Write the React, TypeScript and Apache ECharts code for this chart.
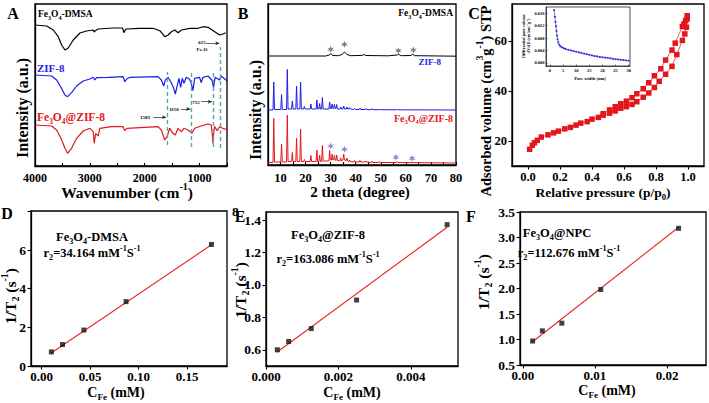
import React, { useEffect, useRef } from "react";
import * as echarts from "echarts";

const SERIF = "Liberation Serif";
const BLACK = "#000000";
const BLUE = "#1c1ce8";
const RED = "#e3161b";
const GUIDE = "#5aa7a3";

// ---------- Panel A: FTIR (wavenumber, offset intensity) ----------
const ftirDMSA = [[4000,141],[3787,140],[3667,136],[3576,129.3],[3515,121],[3454,116],[3394,118],[3303,126],[3181,133],[3060,135],[2939,136],[2920,134],[2900,135.3],[2848,137],[2575,138],[2404,138],[2380,133.3],[2344,137],[2089,137.7],[1847,137.7],[1725,135.3],[1634,129.3],[1574,131],[1512,134.3],[1452,136],[1392,133.3],[1330,136],[1179,137.7],[1027,137.7],[937,139.3],[846,138.7],[724,134.3],[633,131],[573,132],[525,133.3]];
const ftirZIF = [[4000,91],[3697,90],[3606,86],[3527,78.7],[3454,71],[3406,69.3],[3333,73.3],[3242,80],[3121,85],[3000,87],[2939,88.7],[2909,86],[2879,88.3],[2666,88.7],[2393,89.3],[2363,84.3],[2327,87],[2272,88.7],[1757,89.3],[1697,86],[1654,80],[1624,86],[1575,88.7],[1515,83.3],[1472,77.7],[1442,72],[1412,79.3],[1375,87.7],[1345,78.7],[1315,87.7],[1284,82.7],[1242,88.7],[1181,86.7],[1151,82.7],[1121,75.3],[1090,87.7],[1000,88.7],[969,83.3],[939,88.7],[848,90],[775,86],[745,78.7],[715,88.7],[636,86],[606,90],[497,85]];
const ftirComposite = [[4000,41],[3697,40],[3606,36],[3527,27.7],[3454,17.7],[3406,12.7],[3333,17.7],[3242,27.7],[3121,35],[3000,37.7],[2939,34.3],[2920,22.7],[2895,32.7],[2848,30],[2818,37.7],[2606,39.3],[2393,39.3],[2363,35.3],[2327,37.7],[1757,39.3],[1697,36],[1636,26],[1594,29.3],[1545,37.7],[1484,32.7],[1442,31],[1394,37.7],[1333,34.3],[1284,37.7],[1212,36],[1139,32.7],[1090,37.7],[969,40],[848,42],[787,41],[765,30],[757,22.7],[750,30],[727,39.3],[679,35.3],[636,39.3],[545,36.7],[497,37.7]];
const guideLines = [[1583,21,94],[1150,19,96],[755,19,96],[615,18,119]];
const guideArrows = [[1840,1610,48.7],[1340,1170,57],[970,775,64.3],[880,640,122.7]];
const guideTexts = ["1583","1150","755","615"];

// ---------- Panel B: XRD ----------
const xrdDMSA = [[5,109],[28,109],[29.5,110],[30.1,111.5],[30.8,109.5],[33,109.3],[34.5,110.5],[35.5,113],[36.5,110.5],[38,109.3],[42.5,109.6],[43.2,110.5],[44,109.5],[53,109.2],[56.5,110],[57.1,110.8],[58,109.3],[62,109.5],[62.7,110.8],[63.5,109.3],[80,108.8]];
const xrdZIF = [[5,55],[7.0,55],[7.3,83],[7.6,55.5],[10.1,55.5],[10.4,70.5],[10.7,55.5],[12.4,55.5],[12.7,95.5],[13.0,56],[14.4,56],[14.7,64],[15.0,56],[16.1,56],[16.4,79],[16.7,56],[17.7,56],[18.0,83],[18.3,56],[19.2,56],[19.5,58.5],[19.8,56],[21.8,56],[22.1,61],[22.4,56],[24.2,56],[24.5,65],[24.8,56],[25.3,56],[25.6,61.5],[25.9,56],[26.4,56],[26.7,67.5],[27.0,56],[29.3,56],[29.6,63],[29.9,56.5],[30.3,56.5],[30.6,61],[30.9,56.5],[31.2,56.5],[31.5,60.5],[31.8,56.5],[32.1,56.5],[32.4,60.5],[32.7,56],[33.7,56],[34.0,58],[34.3,56],[34.9,56],[35.2,59],[35.5,56],[36.2,56],[36.5,58],[36.8,56],[37.3,56],[37.6,57.3],[37.9,56],[39.2,55.5],[39.5,56.5],[39.8,55.5],[41.4,55.5],[41.7,57],[42,55.5],[43.8,55.5],[44.1,56.5],[44.4,55.5],[46.3,55.3],[46.6,56.5],[46.9,55.3],[49,55.3],[49.3,56],[49.6,55.3],[56.3,55.2],[56.6,56],[56.9,55.2],[80,55]];
const xrdComposite = [[5,2.5],[7.0,2.5],[7.3,46.5],[7.6,3],[10.1,3],[10.4,21],[10.7,3],[12.4,3],[12.7,50],[13.0,3.5],[14.4,3.5],[14.7,12.5],[15.0,3.5],[16.1,3.5],[16.4,27],[16.7,3.5],[17.7,3.5],[18.0,36],[18.3,3.5],[19.2,3.5],[19.5,5.5],[19.8,3.5],[21.8,3.5],[22.1,9.5],[22.4,3.5],[24.2,3.5],[24.5,15],[24.8,3.5],[25.3,3.5],[25.6,10],[25.9,3.5],[26.4,3.5],[26.7,19.5],[27.0,4],[29.3,4],[29.6,14.5],[29.9,5],[30.3,5],[30.6,11],[30.9,5],[31.2,5],[31.5,9.5],[31.8,5],[32.1,4.5],[32.4,10],[32.7,4.5],[33.7,4],[34.0,7],[34.3,4],[34.9,5],[35.2,11],[35.5,5],[36.2,4.5],[36.5,7],[36.8,4],[37.3,3.5],[37.6,5],[37.9,3.5],[39.2,3],[39.5,4.5],[39.8,3],[41.4,3],[41.7,4.5],[42,3],[43.8,3],[44.1,4],[44.4,3],[46.3,2.5],[46.6,4],[46.9,2.5],[49,2.5],[49.3,3.5],[49.6,2.5],[56.3,2.5],[56.6,3.5],[56.9,2.5],[80,2]];
const starsDMSA = [[30,115.7],[35.5,120.7],[57,114.3],[63,115]];
const starsComposite = [[30,19],[35.5,15.7],[56,7.7],[62.5,6.7]];

// ---------- Panel C: N2 isotherm ----------
const adsorption = [[0.01,16.7],[0.027,18.3],[0.04,19.3],[0.058,20.3],[0.083,21.6],[0.125,22.5],[0.16,23.3],[0.19,24],[0.23,24.9],[0.265,25.5],[0.3,26.4],[0.33,27.2],[0.37,27.8],[0.4,28.8],[0.44,29.5],[0.47,30.4],[0.51,31.2],[0.545,32.1],[0.58,33.2],[0.615,33.8],[0.65,34.7],[0.68,35.8],[0.72,37.6],[0.755,39.3],[0.79,41.5],[0.82,44],[0.86,46.8],[0.9,50],[0.93,54.7],[0.965,60.4],[0.98,63],[0.99,65.7],[0.995,69]];
const desorption = [[0.995,70.3],[0.985,68.3],[0.975,67],[0.965,66],[0.92,59.3],[0.9,56.5],[0.86,52.5],[0.83,49],[0.79,46.2],[0.755,43.4],[0.72,41],[0.68,39],[0.65,37.4],[0.615,36],[0.58,35],[0.545,33.8],[0.51,32.5],[0.47,31]];
const poreDist = [[1.6,0.017],[1.9,0.0148],[2.1,0.0132],[2.3,0.0118],[2.5,0.0103],[2.7,0.0088],[2.9,0.0076],[3.2,0.0066],[3.6,0.0058],[4,0.0053],[4.6,0.005],[5.3,0.0047],[6,0.0045],[7,0.0042],[8,0.004],[9,0.0038],[10,0.0036],[11,0.0034],[12,0.0032],[13,0.003],[14,0.0028],[15,0.0026],[16,0.0024],[17,0.0022],[18,0.0021],[19,0.0019],[20,0.0018],[21,0.0017],[22,0.0016],[23,0.0015],[24,0.0013],[25,0.0012],[26,0.0011],[27,0.001],[28,0.0009],[29,0.0008],[30,0.0007]];

// ---------- Panels D, E, F: relaxivity ----------
const dConc = [0.0100, 0.0215, 0.0435, 0.087, 0.175];
const dRate = [0.73, 1.11, 1.86, 3.33, 6.29];
const dFit = [[0.0095, 0.66], [0.175, 6.27]];
const dTicks = [0, 2, 4, 6, 8];
const eConc = [0.0003125, 0.000625, 0.00125, 0.0025, 0.005];
const eRate = [0.60, 0.651, 0.731, 0.907, 1.372];
const eFit = [[0.0003, 0.585], [0.005, 1.356]];
const fConc = [0.00135, 0.0027, 0.0054, 0.0108, 0.0216];
const fRate = [0.97, 1.17, 1.32, 1.98, 3.18];
const fFit = [[0.0013, 0.95], [0.0216, 3.2]];

const zip = (xs: number[], ys: number[]) => xs.map((x, i) => [x, ys[i]]);

const rich = (fs: number, color: string) => {
  const base = { fontFamily: SERIF, fontWeight: "bold", fill: color };
  return {
    n: { ...base, fontSize: fs, lineHeight: fs * 1.4, verticalAlign: "middle" },
    s: { ...base, fontSize: fs * 0.65, lineHeight: fs * 0.65, verticalAlign: "bottom" },
    p: { ...base, fontSize: fs * 0.65, lineHeight: fs * 0.65, verticalAlign: "top" },
  };
};

function txt(text: string, x: number, y: number, fs: number, color = BLACK, align = "center", rotation = 0) {
  return {
    type: "text", x, y, rotation, silent: true, z: 100,
    style: { text, rich: rich(fs, color), align, verticalAlign: "middle", fill: color, fontFamily: SERIF, fontWeight: "bold", fontSize: fs },
  };
}

const lbl = (fs: number) => ({ color: "#000", fontFamily: SERIF, fontWeight: "bold", fontSize: fs });

function vAxis(o: any) {
  const ax: any = {
    type: "value", gridIndex: o.grid, min: o.min, max: o.max, inverse: !!o.inverse,
    axisLine: { show: o.line !== false, onZero: false, lineStyle: { color: "#000", width: o.lw ?? 1.3 } },
    axisTick: { show: o.ticks !== false, inside: !!o.inside, length: o.tl ?? 3.5, lineStyle: { color: "#000", width: o.tw ?? 1.1 } },
    axisLabel: { show: o.labels !== false, margin: o.margin ?? 5, showMinLabel: true, showMaxLabel: true, hideOverlap: false,
      formatter: o.fmt ?? ((v: number) => String(v)), ...lbl(o.fs ?? 12) },
    splitLine: { show: false },
  };
  if (o.interval !== undefined) ax.interval = o.interval;
  if (o.tickValues) ax.axisTick.customValues = o.tickValues;
  if (o.labelValues) ax.axisLabel.customValues = o.labelValues;
  return ax;
}

const fx = (d: number) => (v: number) => v.toFixed(d);
const FE3O4 = "{n|Fe}{s|3}{n|O}{s|4}";
const STAR = "path://M0,-5L1.2,-1.6L4.6,-2.6L2,0L4.6,2.6L1.2,1.6L0,5L-1.2,1.6L-4.6,2.6L-2,0L-4.6,-2.6L-1.2,-1.6Z";

function buildOption() {
  const grids = [
    { left: 35, top: 4, width: 192, height: 162, borderWidth: 1.3 },
    { left: 268, top: 4, width: 188, height: 161, borderWidth: 1.3 },
    { left: 512, top: 4, width: 192, height: 162, borderWidth: 1.3 },
    { left: 546, top: 7, width: 84, height: 59, borderWidth: 0.7 },
    { left: 31, top: 211, width: 196, height: 155, borderWidth: 1.3 },
    { left: 266, top: 212, width: 192, height: 154, borderWidth: 1.3 },
    { left: 520, top: 212, width: 186, height: 153, borderWidth: 1.3 },
  ].map((g) => ({ ...g, show: true, borderColor: "#000", backgroundColor: "transparent", containLabel: false }));

  const xAxis = [
    vAxis({ grid: 0, min: 500, max: 4000, inverse: true, inside: true, tl: 3,
      tickValues: [500, 1000, 1500, 2000, 2500, 3000, 3500, 4000], labelValues: [1000, 2000, 3000, 4000], fs: 12, margin: 6 }),
    vAxis({ grid: 1, min: 5, max: 80, inside: true, tl: 3,
      tickValues: [10, 15, 20, 25, 30, 35, 40, 45, 50, 55, 60, 65, 70, 75, 80], labelValues: [10, 20, 30, 40, 50, 60, 70, 80], fs: 12.5, margin: 6 }),
    vAxis({ grid: 2, min: -0.1, max: 1.1, tickValues: [0, 0.2, 0.4, 0.6, 0.8, 1.0], labelValues: [0, 0.2, 0.4, 0.6, 0.8, 1.0], fmt: fx(1), fs: 12.5, margin: 4 }),
    vAxis({ grid: 3, min: -1.5, max: 30.5, lw: 0.6, tw: 0.5, tl: 1.5, inside: true, margin: 1.5, fs: 4.5,
      tickValues: [0, 5, 10, 15, 20, 25, 30], labelValues: [0, 5, 10, 15, 20, 25, 30] }),
    vAxis({ grid: 4, min: -0.011, max: 0.191, tickValues: [0, 0.05, 0.1, 0.15], labelValues: [0, 0.05, 0.1, 0.15], fmt: fx(2), fs: 13, margin: 4 }),
    vAxis({ grid: 5, min: 0, max: 0.0053, tickValues: [0, 0.002, 0.004], labelValues: [0, 0.002, 0.004], fmt: fx(3), fs: 13, margin: 4 }),
    vAxis({ grid: 6, min: -0.0004, max: 0.0254, tickValues: [0, 0.01, 0.02], labelValues: [0, 0.01, 0.02], fmt: fx(2), fs: 13, margin: 4 }),
  ];

  const yAxis = [
    vAxis({ grid: 0, min: 0, max: 162, ticks: false, labels: false }),
    vAxis({ grid: 1, min: 0, max: 161, ticks: false, labels: false }),
    vAxis({ grid: 2, min: 10, max: 75, tickValues: [20, 40, 60], labelValues: [20, 40, 60], fs: 12.5, margin: 5 }),
    vAxis({ grid: 3, min: -0.001, max: 0.018, lw: 0.6, tw: 0.5, tl: 1.5, inside: true, margin: 1.5, fs: 4.5,
      tickValues: [0, 0.004, 0.008, 0.012, 0.016], labelValues: [0, 0.004, 0.008, 0.012, 0.016], fmt: fx(3) }),
    vAxis({ grid: 4, min: 0, max: 8.02, tickValues: dTicks, labelValues: dTicks.slice(0, 4), fs: 13.5, margin: 5 }),
    vAxis({ grid: 5, min: 0.5, max: 1.45, tickValues: [0.6, 0.8, 1.0, 1.2, 1.4], labelValues: [0.6, 0.8, 1.0, 1.2, 1.4], fmt: fx(1), fs: 13.5, margin: 5 }),
    vAxis({ grid: 6, min: 0.5, max: 3.5, tickValues: [0.5, 1, 1.5, 2, 2.5, 3, 3.5], labelValues: [0.5, 1, 1.5, 2, 2.5, 3, 3.5], fmt: fx(1), fs: 13.5, margin: 5 }),
    // companion axis on panel D carrying only its top tick label
    vAxis({ grid: 4, min: 0, max: 8.02, line: false, ticks: false, labelValues: dTicks.slice(4), fs: 13.5, margin: 5 }),
  ];

  const line = (i: number, data: any, color: string, width = 1.1, extra: any = {}) => ({
    type: "line", xAxisIndex: i, yAxisIndex: i, data, symbol: "none", showSymbol: false,
    lineStyle: { color, width }, itemStyle: { color }, silent: true, ...extra,
  });

  const series: any[] = [
    line(0, ftirDMSA, BLACK, 1.2, {
      markLine: {
        silent: true, symbol: ["none", "none"], label: { show: false },
        lineStyle: { type: [4, 3], color: GUIDE, width: 1.4 },
        data: guideLines.map(([w, a, b]) => [{ coord: [w, a] }, { coord: [w, b] }]),
      },
    }),
    line(0, ftirZIF, BLUE, 1.2, {
      markLine: {
        silent: true, symbol: ["none", "arrow"], symbolSize: [3, 4], label: { show: false },
        lineStyle: { type: "solid", color: "#222", width: 0.7 },
        data: guideArrows.map(([a, b, y]) => [{ coord: [a, y] }, { coord: [b, y] }]),
      },
    }),
    line(0, ftirComposite, RED, 1.2),
    line(1, xrdDMSA, BLACK, 1),
    line(1, xrdZIF, BLUE, 1),
    line(1, xrdComposite, RED, 1),
    { type: "scatter", xAxisIndex: 1, yAxisIndex: 1, data: starsDMSA, symbol: STAR, symbolSize: 7, itemStyle: { color: "#5a5a5a" }, silent: true },
    { type: "scatter", xAxisIndex: 1, yAxisIndex: 1, data: starsComposite, symbol: STAR, symbolSize: 7, itemStyle: { color: "#6b6bb0" }, silent: true },
    line(2, adsorption, RED, 0.7, { symbol: "rect", showSymbol: true, symbolSize: 5.5 }),
    line(2, desorption, RED, 0.7, { symbol: "rect", showSymbol: true, symbolSize: 5.5 }),
    line(3, poreDist, "#2b2bd6", 0.6, { symbol: "rect", showSymbol: true, symbolSize: 1.8 }),
    line(4, dFit, "#e8241e", 1.1),
    { type: "scatter", xAxisIndex: 4, yAxisIndex: 4, data: zip(dConc, dRate), symbol: "rect", symbolSize: 5, itemStyle: { color: "#111" }, silent: true, z: 5 },
    line(5, eFit, "#e8241e", 1.1),
    { type: "scatter", xAxisIndex: 5, yAxisIndex: 5, data: zip(eConc, eRate), symbol: "rect", symbolSize: 5, itemStyle: { color: "#111" }, silent: true, z: 5 },
    line(6, fFit, "#e8241e", 1.1),
    { type: "scatter", xAxisIndex: 6, yAxisIndex: 6, data: zip(fConc, fRate), symbol: "rect", symbolSize: 5, itemStyle: { color: "#111" }, silent: true, z: 5 },
    // empty series so the companion axis is in use
    { type: "line", xAxisIndex: 4, yAxisIndex: 7, data: [], silent: true },
  ];

  const ROT = Math.PI / 2;
  const graphic = [
    // panel letters
    txt("{n|A}", 13, 13, 16), txt("{n|B}", 243, 13, 16), txt("{n|C}", 474, 13, 16),
    txt("{n|D}", 7, 213, 16), txt("{n|E}", 240, 216, 16), txt("{n|F}", 471, 216, 16),
    // A
    txt(FE3O4 + "{n|-DMSA}", 38, 14, 9.5, BLACK, "left"),
    txt("{n|ZIF-8}", 37, 68, 11, BLUE, "left"),
    txt(FE3O4 + "{n|@ZIF-8}", 37, 117, 11.5, RED, "left"),
    txt("{n|" + guideTexts[0] + "}", 145, 117, 5), txt("{n|" + guideTexts[1] + "}", 174, 109, 5),
    txt("{n|" + guideTexts[2] + "}", 196, 102, 5), txt("{n|" + guideTexts[3] + "}", 202, 42, 5),
    txt("{n|Fe-O}", 202, 49, 5),
    txt("{n|Intensity (a.u.)}", 22, 108, 16, BLACK, "center", ROT),
    txt("{n|Wavenumber (cm}{p|-1}{n|)}", 127, 192, 15.5),
    // B
    txt(FE3O4 + "{n|-DMSA}", 453, 13, 9.5, BLACK, "right"),
    txt("{n|ZIF-8}", 441, 62, 9, BLUE, "right"),
    txt(FE3O4 + "{n|@ZIF-8}", 453, 118, 10, RED, "right"),
    txt("{n|Intensity (a.u.)}", 255, 110, 16, BLACK, "center", ROT),
    txt("{n|2 theta (degree)}", 360, 192, 15),
    // C
    txt("{n|Adsorbed volume (cm}{p|3}{n|g}{p|-1}{n|) STP}", 486, 101, 14.5, BLACK, "center", ROT),
    txt("{n|Relative pressure (p/p}{s|0}{n|)}", 603, 192, 13.5),
    txt("{n|Pore width (nm)}", 590, 78, 4.5),
    txt("{n|Differential pore volume}", 523, 36, 4.2, BLACK, "center", ROT),
    txt("{n|dV/dD (cm}{p|3}{n|nm}{p|-1}{n|g}{p|-1}{n|)}", 528.5, 36, 4.2, BLACK, "center", ROT),
    // D
    txt("{n|1/T}{s|2}{n| (s}{p|-1}{n|)}", 10, 296, 15.5, BLACK, "center", ROT),
    txt("{n|C}{s|Fe}{n| (mM)}", 116, 392, 14),
    txt(FE3O4 + "{n|-DMSA}", 92, 237, 12.5),
    txt("{n|r}{s|2}{n|=34.164 mM}{p|-1}{n|S}{p|-1}", 92, 253, 12.5),
    // E
    txt("{n|1/T}{s|2}{n| (s}{p|-1}{n|)}", 240, 290, 15.5, BLACK, "center", ROT),
    txt("{n|C}{s|Fe}{n| (mM)}", 352, 392, 14),
    txt(FE3O4 + "{n|@ZIF-8}", 328, 235, 12.5),
    txt("{n|r}{s|2}{n|=163.086 mM}{p|-1}{n|S}{p|-1}", 328, 259, 12.5),
    // F
    txt("{n|1/T}{s|2}{n| (s}{p|-1}{n|)}", 483, 282, 15.5, BLACK, "center", ROT),
    txt("{n|C}{s|Fe}{n| (mM)}", 607, 390, 14),
    txt(FE3O4 + "{n|@NPC}", 557, 233, 12.5),
    txt("{n|r}{s|2}{n|=112.676 mM}{p|-1}{n|S}{p|-1}", 569, 253, 12.5),
  ];

  return {
    animation: false,
    backgroundColor: "#ffffff",
    textStyle: { fontFamily: SERIF },
    grid: grids, xAxis, yAxis, series, graphic,
  };
}

export default function App() {
  const ref = useRef<HTMLDivElement>(null);
  useEffect(() => {
    document.body.style.margin = "0";
    const chart = echarts.init(ref.current as HTMLDivElement, undefined, { renderer: "svg" });
    chart.setOption(buildOption() as any);
    return () => chart.dispose();
  }, []);
  return <div ref={ref} style={{ width: 709, height: 403, background: "#fff" }} />;
}
